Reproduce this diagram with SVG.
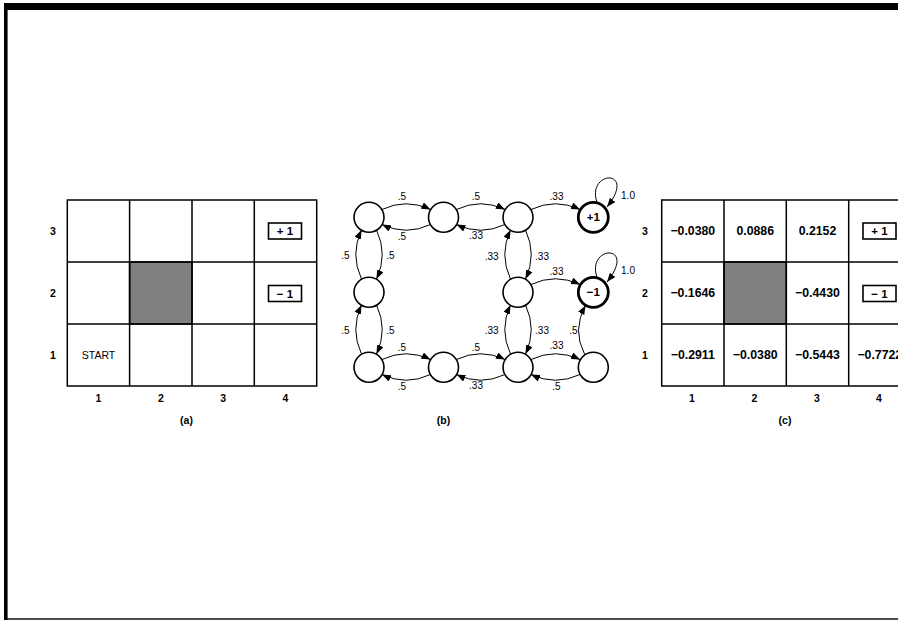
<svg xmlns="http://www.w3.org/2000/svg" width="898" height="620" viewBox="0 0 898 620">
<style>
.g{fill:none;stroke:#000;stroke-width:1.5}
.sh{fill:#808080;stroke:#000;stroke-width:1.5}
.lb{font-family:"Liberation Sans",Arial,sans-serif;font-weight:bold;font-size:10.5px;text-anchor:middle;fill:#000}
.v{font-family:"Liberation Sans",Arial,sans-serif;font-weight:bold;font-size:12.3px;text-anchor:middle;fill:#000}
.bx{fill:#fff;stroke:#000;stroke-width:1.6}
.bt{font-family:"Liberation Sans",Arial,sans-serif;font-weight:bold;font-size:11.5px;text-anchor:middle;fill:#000}
.st{font-family:"Liberation Sans",Arial,sans-serif;font-size:10.5px;text-anchor:middle;fill:#000}
.n{fill:#fff;stroke:#000;stroke-width:1.6}
.t{fill:#fff;stroke:#000;stroke-width:2.8}
.nt{font-family:"Liberation Sans",Arial,sans-serif;font-weight:bold;font-size:11.5px;text-anchor:middle;fill:#000}
.e{fill:none;stroke:#000;stroke-width:1;marker-end:url(#ah)}
.el{font-family:"Liberation Sans",Arial,sans-serif;font-size:10px;text-anchor:middle;fill:#000}
</style>
<defs>
<marker id="ah" markerUnits="userSpaceOnUse" markerWidth="9" markerHeight="7" refX="9" refY="3.5" orient="auto">
<path d="M0,0 L9,3.5 L0,7 z" fill="#000"/>
</marker>
</defs>
<rect x="0" y="0" width="898" height="620" fill="#fff"/>
<g id="frame">
<rect x="4" y="3" width="894" height="7" fill="#000"/>
<rect x="4" y="3" width="3.6" height="617" fill="#000"/>
<rect x="4" y="618.3" width="894" height="1.4" fill="#000"/>
</g>

<g id="gridA">
<rect class="sh" x="129.6" y="262" width="62.4" height="62"/>
<rect class="g" x="67.3" y="200" width="249.4" height="186"/>
<path class="g" d="M129.6 200V386M192 200V386M254.3 200V386M67.3 262H316.7M67.3 324H316.7"/>
<rect class="bx" x="268.5" y="223" width="33" height="16"/>
<text class="bt" x="285" y="235.2">+ 1</text>
<rect class="bx" x="268.5" y="285.5" width="33" height="16"/>
<text class="bt" x="285" y="297.7">− 1</text>
<text class="st" x="98.5" y="358.8">START</text>
<text class="lb" x="53" y="235">3</text>
<text class="lb" x="53" y="297">2</text>
<text class="lb" x="53" y="359">1</text>
<text class="lb" x="98.5" y="402">1</text>
<text class="lb" x="160.8" y="402">2</text>
<text class="lb" x="223.1" y="402">3</text>
<text class="lb" x="285.5" y="402">4</text>
<text class="lb" x="186.5" y="424">(a)</text>
</g>

<g id="connectors">
<path class="e" d="M382 209.5 Q406.2 198 430.5 209.5"/>
<path class="e" d="M430.5 224.5 Q406.2 236 382 224.5"/>
<path class="e" d="M456.5 209.5 Q480.7 198 505 209.5"/>
<path class="e" d="M505 224.5 Q480.7 236 456.5 224.5"/>
<path class="e" d="M531 209.5 Q555.5 198 580 209.5"/>
<path class="e" d="M376.5 230 Q388 254.5 376.5 279"/>
<path class="e" d="M361.5 279 Q350 254.5 361.5 230"/>
<path class="e" d="M376.5 305 Q388 329.5 376.5 354"/>
<path class="e" d="M361.5 354 Q350 329.5 361.5 305"/>
<path class="e" d="M525.5 230 Q537 254.5 525.5 279"/>
<path class="e" d="M510.5 279 Q499 254.5 510.5 230"/>
<path class="e" d="M525.5 305 Q537 329.5 525.5 354"/>
<path class="e" d="M510.5 354 Q499 329.5 510.5 305"/>
<path class="e" d="M531 284.5 Q555.5 273 580 284.5"/>
<path class="e" d="M382 359.5 Q406.2 348 430.5 359.5"/>
<path class="e" d="M430.5 374.5 Q406.2 386 382 374.5"/>
<path class="e" d="M456.5 359.5 Q480.7 348 505 359.5"/>
<path class="e" d="M505 374.5 Q480.7 386 456.5 374.5"/>
<path class="e" d="M531 359.5 Q555.5 348 580 359.5"/>
<path class="e" d="M580 374.5 Q555.5 386 531 374.5"/>
<path class="e" d="M584.5 354 Q572 330 585.5 305.5"/>
<path class="e" d="M597 202.5 C586 170 638 168 607 207"/>
<path class="e" d="M597 277.5 C586 245 638 243 607 282"/>
<text class="el" x="402" y="200">.5</text>
<text class="el" x="402" y="240">.5</text>
<text class="el" x="476" y="200">.5</text>
<text class="el" x="476" y="238.5">.33</text>
<text class="el" x="556.5" y="199.5">.33</text>
<text class="el" x="628" y="198.5">1.0</text>
<text class="el" x="390.5" y="258.5">.5</text>
<text class="el" x="345.5" y="258.5">.5</text>
<text class="el" x="390.5" y="333.5">.5</text>
<text class="el" x="345.5" y="333.5">.5</text>
<text class="el" x="491.7" y="259.5">.33</text>
<text class="el" x="542" y="259.5">.33</text>
<text class="el" x="491.7" y="333.5">.33</text>
<text class="el" x="542" y="333.5">.33</text>
<text class="el" x="556.5" y="275">.33</text>
<text class="el" x="628" y="273.5">1.0</text>
<text class="el" x="573.5" y="333.5">.5</text>
<text class="el" x="402" y="350.5">.5</text>
<text class="el" x="402" y="390">.5</text>
<text class="el" x="476" y="350.5">.5</text>
<text class="el" x="476" y="388.5">.33</text>
<text class="el" x="556.5" y="348.5">.33</text>
<text class="el" x="556.5" y="390">.5</text>
</g>

<g id="s13"><circle class="n" cx="369" cy="217.3" r="15"/></g>
<g id="s23"><circle class="n" cx="443.5" cy="217.3" r="15"/></g>
<g id="s33"><circle class="n" cx="518" cy="217.3" r="15"/></g>
<g id="s43"><circle class="t" cx="593.3" cy="217.3" r="15"/><text class="nt" x="593.3" y="221.3">+1</text></g>
<g id="s12"><circle class="n" cx="369" cy="292.3" r="15"/></g>
<g id="s32"><circle class="n" cx="518" cy="292.3" r="15"/></g>
<g id="s42"><circle class="t" cx="593.3" cy="292.3" r="15"/><text class="nt" x="593.3" y="296.3">−1</text></g>
<g id="s11"><circle class="n" cx="369" cy="367.3" r="15"/></g>
<g id="s21"><circle class="n" cx="443.5" cy="367.3" r="15"/></g>
<g id="s31"><circle class="n" cx="518" cy="367.3" r="15"/></g>
<g id="s41"><circle class="n" cx="593.3" cy="367.3" r="15"/></g>
<text class="lb" x="443.5" y="424">(b)</text>

<g id="gridC">
<rect class="sh" x="724" y="262" width="62.3" height="62"/>
<rect class="g" x="661.7" y="200" width="249.3" height="186"/>
<path class="g" d="M724 200V386M786.3 200V386M848.7 200V386M661.7 262H911M661.7 324H911"/>
<text class="v" x="692.8" y="235.3">−0.0380</text>
<text class="v" x="755.2" y="235.3">0.0886</text>
<text class="v" x="817.5" y="235.3">0.2152</text>
<rect class="bx" x="863" y="223" width="33" height="16"/>
<text class="bt" x="879.5" y="235.2">+ 1</text>
<text class="v" x="692.8" y="297.3">−0.1646</text>
<text class="v" x="817.5" y="297.3">−0.4430</text>
<rect class="bx" x="863" y="285.5" width="33" height="16"/>
<text class="bt" x="879.5" y="297.7">− 1</text>
<text class="v" x="692.8" y="359.3">−0.2911</text>
<text class="v" x="755.2" y="359.3">−0.0380</text>
<text class="v" x="817.5" y="359.3">−0.5443</text>
<text class="v" x="879.8" y="359.3">−0.7722</text>
<text class="lb" x="645" y="235">3</text>
<text class="lb" x="645" y="297">2</text>
<text class="lb" x="645" y="359">1</text>
<text class="lb" x="692" y="402">1</text>
<text class="lb" x="754.5" y="402">2</text>
<text class="lb" x="817" y="402">3</text>
<text class="lb" x="879" y="402">4</text>
<text class="lb" x="785" y="424">(c)</text>
</g>
</svg>
